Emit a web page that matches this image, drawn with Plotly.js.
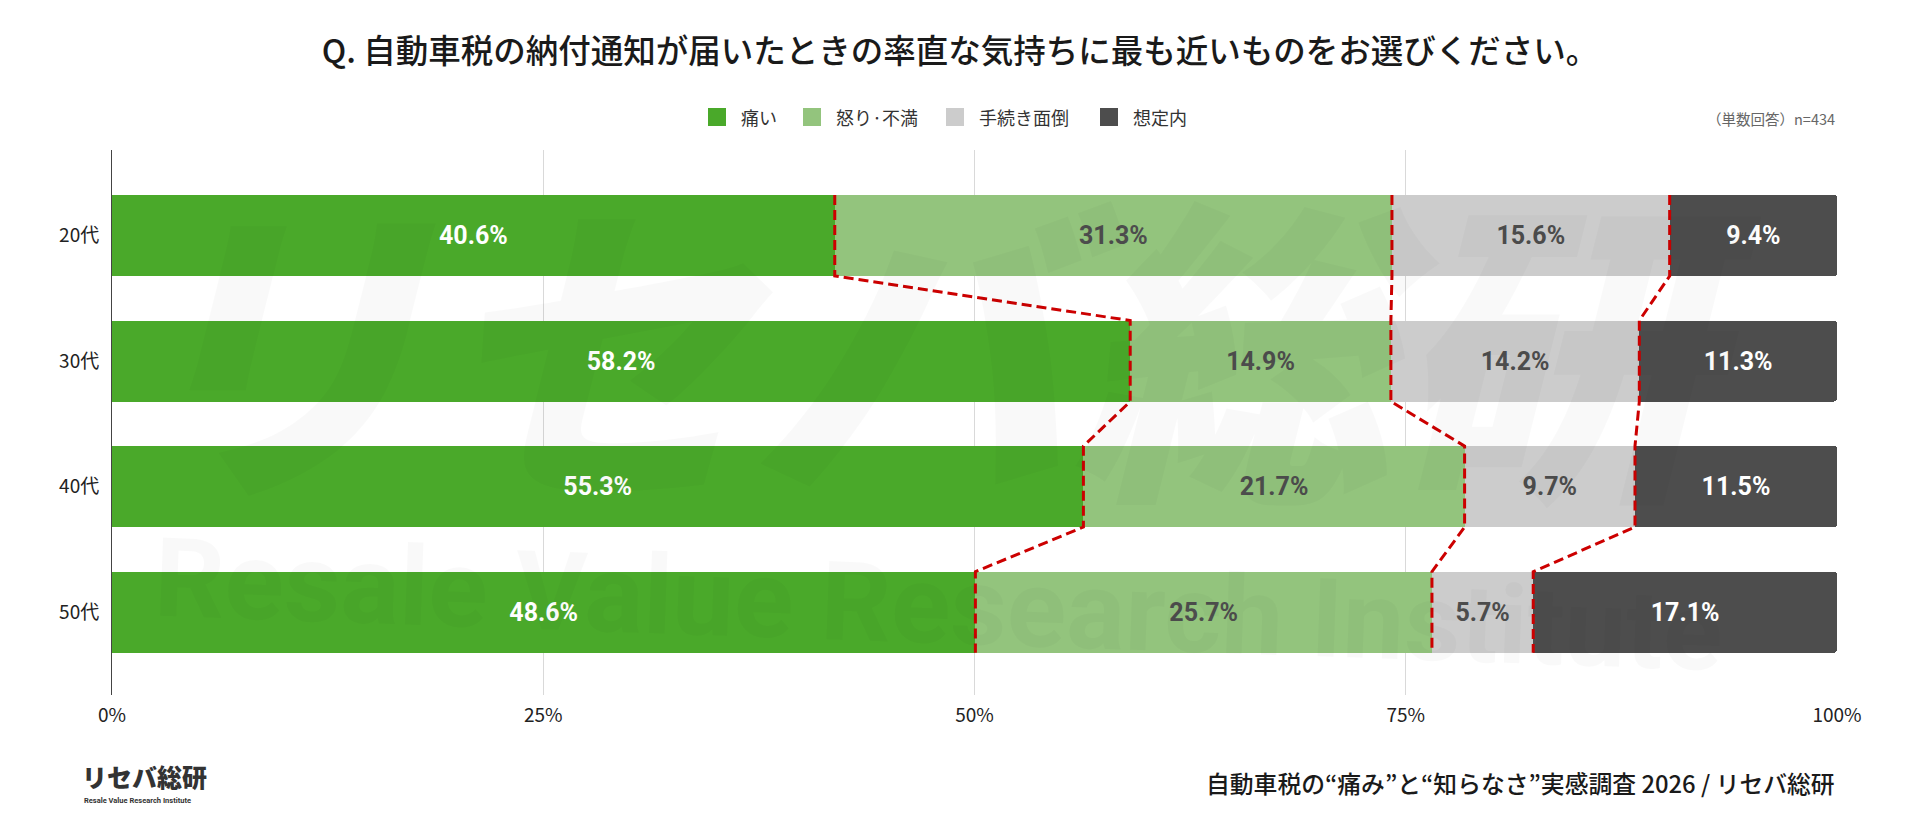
<!DOCTYPE html>
<html>
<head>
<meta charset="utf-8">
<script src="https://cdn.plot.ly/plotly-3.0.1.min.js"></script>
<style>
  html, body { margin: 0; padding: 0; background: #fff; }
  #chart { width: 1920px; height: 817px; }
</style>
</head>
<body>
<div id="chart"></div>
<script>
'use strict';

// 年代ごとの回答（%）
const ages = ['20代', '30代', '40代', '50代'];
const itai = [40.6, 58.2, 55.3, 48.6];
const ikari = [31.3, 14.9, 21.7, 25.7];
const tetsuzuki = [15.6, 14.2, 9.7, 5.7];
const souteinai = [9.4, 11.3, 11.5, 17.1];
const xTicks = [0, 25, 50, 75, 100];
const xTickText = ['0%', '25%', '50%', '75%', '100%'];

const seriesNames = ['痛い', '怒り·不満', '手続き面倒', '想定内'];
const seriesColors = ['#4aa92a', '#93c47d', '#cccccc', '#4d4d4d'];
const textColors = ['#ffffff', '#4d4d4d', '#4d4d4d', '#ffffff'];

const FONT = '"Noto Sans CJK JP", "Noto Sans", sans-serif';
const W = 1920, H = 817;
const M = { l: 112, r: 83, t: 150, b: 122 };
const PW = W - M.l - M.r, PH = H - M.t - M.b;
// ピクセル位置 → paper 座標
const px = x => (x - M.l) / PW;
const py = y => (H - M.b - y) / PH;

const BAR_W = 0.645;
const rows = ages.map((_, i) => i);
const series = [itai, ikari, tetsuzuki, souteinai];

const traces = series.map((vals, k) => ({
    type: 'bar', orientation: 'h',
    name: seriesNames[k],
    y: rows, x: vals, width: BAR_W,
    marker: { color: seriesColors[k], line: { width: 0 } },
    text: vals.map(v => v.toFixed(1) + '%'),
    texttemplate: '%{text}',
    textposition: 'inside', insidetextanchor: 'middle', textangle: 0,
    constraintext: 'none',
    textfont: { family: 'Roboto, sans-serif', size: 25, weight: 700, color: textColors[k] },
    showlegend: false,
    hoverinfo: 'name+text'
}));

// 区切り位置を結ぶ赤い破線（100%正規化した累積値）
for (let k = 1; k < series.length; k++) {
    const xs = [], ys = [];
    rows.forEach(i => {
        const total = series.reduce((s, arr) => s + arr[i], 0);
        let cum = 0;
        for (let j = 0; j < k; j++) cum += series[j][i];
        const pos = cum / total * 100;
        xs.push(pos, pos);
        ys.push(i - BAR_W / 2, i + BAR_W / 2);
    });
    traces.push({
        type: 'scatter', mode: 'lines', x: xs, y: ys,
        line: { color: '#cc0000', width: 3, dash: '10px,5px' },
        showlegend: false, hoverinfo: 'skip'
    });
}

// 凡例（四角＋ラベル）
const legendLeft = [708, 803, 946, 1100];
const legendShapes = seriesNames.map((n, k) => ({
    type: 'rect', xref: 'paper', yref: 'paper',
    xsizemode: 'pixel', ysizemode: 'pixel',
    xanchor: px(legendLeft[k]), yanchor: py(117),
    x0: 0, x1: 18, y0: -9, y1: 9,
    fillcolor: seriesColors[k], line: { width: 0 }
}));
const legendLabels = seriesNames.map((n, k) => ({
    text: n, xref: 'paper', yref: 'paper',
    x: px(legendLeft[k] + 31), y: py(117), xanchor: 'left', yanchor: 'middle',
    showarrow: false,
    font: { family: FONT, size: 18, color: '#333' }
}));

const layout = {
    width: W, height: H,
    paper_bgcolor: '#ffffff', plot_bgcolor: '#ffffff',
    font: { family: FONT, color: '#222' },
    margin: M,
    barmode: 'stack', barnorm: 'percent', barcornerradius: 3,
    title: {
        text: 'Q. 自動車税の納付通知が届いたときの率直な気持ちに最も近いものをお選びください。',
        font: { family: FONT, size: 32.5, weight: 500, color: '#1a1a1a' },
        x: 0.5, xref: 'container', xanchor: 'center',
        y: 1 - 52 / H, yref: 'container', yanchor: 'middle'
    },
    showlegend: false,
    xaxis: {
        range: [0, 100], tickvals: xTicks, ticktext: xTickText,
        showgrid: true, gridcolor: '#d9d9d9', gridwidth: 1,
        zeroline: false, showline: false, ticks: '',
        ticklabelstandoff: 7,
        tickfont: { family: FONT, size: 19, color: '#222' },
        fixedrange: true
    },
    yaxis: {
        range: [3.66, -0.681], tickvals: rows, ticktext: ages,
        showgrid: false, zeroline: false,
        showline: true, linecolor: '#444', linewidth: 1, ticks: '',
        ticklabelstandoff: 8,
        tickfont: { family: FONT, size: 19, color: '#222' },
        fixedrange: true
    },
    shapes: legendShapes,
    annotations: [
        // 透かし
        {
            text: 'リセバ総研', xref: 'paper', yref: 'paper',
            x: px(938), y: py(335), xanchor: 'center', yanchor: 'middle',
            showarrow: false,
            font: { family: FONT, size: 320, weight: 900, style: 'italic', color: 'rgba(0,0,0,0.022)' }
        },
        {
            text: 'Resale Value Research Institute', xref: 'paper', yref: 'paper',
            x: px(938), y: py(605), xanchor: 'center', yanchor: 'middle',
            showarrow: false, textangle: 2,
            font: { family: 'Roboto, sans-serif', size: 110, weight: 700, color: 'rgba(0,0,0,0.022)' }
        },
        ...legendLabels,
        {
            text: '（単数回答）n=434', xref: 'paper', yref: 'paper',
            x: 1, y: py(119), xanchor: 'right', yanchor: 'middle',
            showarrow: false,
            font: { family: FONT, size: 14.5, color: '#666' }
        },
        {
            text: '自動車税の“痛み”と“知らなさ”実感調査 2026 / リセバ総研', xref: 'paper', yref: 'paper',
            x: 1, y: py(782), xanchor: 'right', yanchor: 'middle',
            showarrow: false,
            font: { family: FONT, size: 23.8, weight: 500, color: '#1a1a1a' }
        },
        // ロゴ
        {
            text: 'リセバ総研', xref: 'paper', yref: 'paper',
            x: px(80), y: py(776), xanchor: 'left', yanchor: 'middle',
            showarrow: false,
            font: { family: FONT, size: 25, weight: 900, color: '#333' }
        },
        {
            text: 'Resale Value Research Institute', xref: 'paper', yref: 'paper',
            x: px(82), y: py(800), xanchor: 'left', yanchor: 'middle',
            showarrow: false,
            font: { family: 'Roboto, sans-serif', size: 7.5, weight: 700, color: '#333' }
        }
    ]
};

Plotly.newPlot('chart', traces, layout, { staticPlot: true, displayModeBar: false });
</script>
</body>
</html>
